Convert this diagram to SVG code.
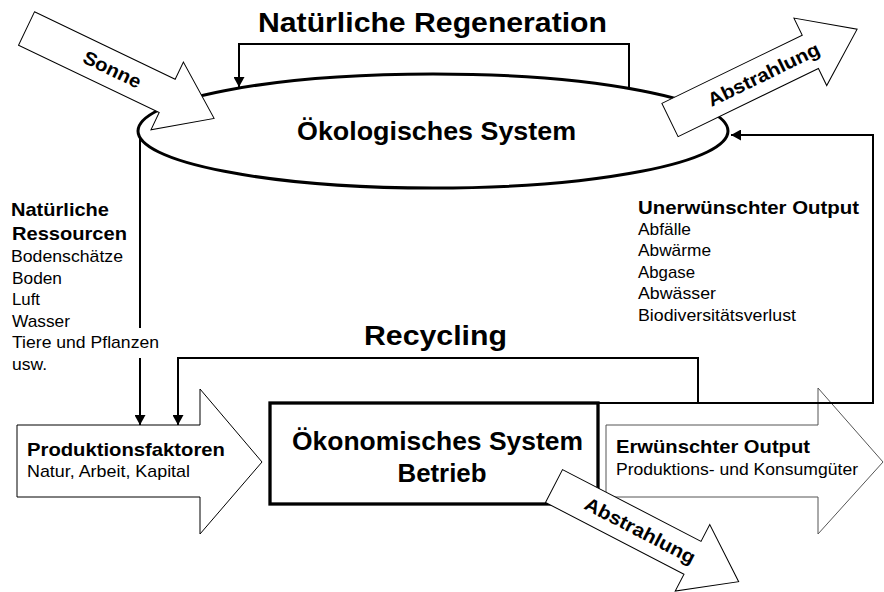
<svg xmlns="http://www.w3.org/2000/svg" width="884" height="592" viewBox="0 0 884 592">
<style>
text{font-family:"Liberation Sans",Arial,sans-serif;fill:#000}
.b{font-weight:bold}
.t{font-size:27px;font-weight:bold}
.sys{font-size:25px;font-weight:bold}
.lb{font-size:19px;font-weight:bold}
.r{font-size:17px}
.fat{fill:#fff;stroke:#000;stroke-width:1}
.conn{fill:none;stroke:#000;stroke-width:2}
</style>
<defs>
<marker id="ah" markerWidth="10" markerHeight="11" refX="10" refY="5.5" orient="auto" markerUnits="userSpaceOnUse"><path d="M0,0 L10,5.5 L0,11 z" fill="#000"/></marker>
<path id="flow" d="M0,-18.5 H156 V-37.5 L208,0 L156,37.5 V18.5 H0 Z"/>
</defs>

<g id="oekologisches-system">
<ellipse cx="433" cy="131" rx="295" ry="57" fill="#fff" stroke="#000" stroke-width="3"/>
<text class="sys" x="436.5" y="140" text-anchor="middle" textLength="279" lengthAdjust="spacingAndGlyphs">Ökologisches System</text>
</g>

<g id="oekonomisches-system">
<rect x="270" y="403" width="328" height="101" fill="#fff" stroke="#000" stroke-width="3.3"/>
<text class="sys" x="437.5" y="450" text-anchor="middle" textLength="291" lengthAdjust="spacingAndGlyphs">Ökonomisches System</text>
<text class="sys" x="442" y="482" text-anchor="middle" textLength="89" lengthAdjust="spacingAndGlyphs">Betrieb</text>
</g>

<g id="produktionsfaktoren">
<polygon class="fat" points="17,425 200,425 200,389 262,462 200,534 200,497 17,497"/>
<text class="lb" x="27" y="456" textLength="198" lengthAdjust="spacingAndGlyphs">Produktionsfaktoren</text>
<text class="r" x="27" y="477" textLength="163" lengthAdjust="spacingAndGlyphs">Natur, Arbeit, Kapital</text>
</g>

<g id="erwuenschter-output">
<polygon class="fat" style="stroke:#555" points="606,425 818,425 818,388 883,462 818,534 818,497 606,497"/>
<text class="lb" x="616" y="453" textLength="194" lengthAdjust="spacingAndGlyphs">Erwünschter Output</text>
<text class="r" x="616" y="475" textLength="242" lengthAdjust="spacingAndGlyphs">Produktions- und Konsumgüter</text>
</g>

<g id="connectors">
<path class="conn" d="M629,88 V44 H239 V87" marker-end="url(#ah)"/>
<path class="conn" d="M140,138 V328"/>
<path class="conn" d="M140,358 V425" marker-end="url(#ah)"/>
<path class="conn" d="M698,403 V358 H178 V425" marker-end="url(#ah)"/>
<path class="conn" d="M598,403 H873 V135 H731" marker-end="url(#ah)"/>
</g>

<g id="sonne">
<use href="#flow" class="fat" transform="translate(26.5,28.5) rotate(25.6)"/>
<text class="lb" transform="translate(26.5,28.5) rotate(25.6)" x="95" y="6.5" text-anchor="middle" textLength="62" lengthAdjust="spacingAndGlyphs">Sonne</text>
</g>

<g id="abstrahlung-oben">
<use href="#flow" class="fat" transform="translate(670,120) rotate(-25.9)"/>
<text class="lb" transform="translate(670,120) rotate(-25.9)" x="104" y="6.5" text-anchor="middle" textLength="122" lengthAdjust="spacingAndGlyphs">Abstrahlung</text>
</g>

<g id="abstrahlung-unten">
<use href="#flow" class="fat" transform="translate(554,486) rotate(27.4)"/>
<text class="lb" transform="translate(554,486) rotate(27.4)" x="97" y="6.5" text-anchor="middle" textLength="122" lengthAdjust="spacingAndGlyphs">Abstrahlung</text>
</g>

<g id="titel-regeneration">
<text class="t" x="258" y="32" textLength="349" lengthAdjust="spacingAndGlyphs">Natürliche Regeneration</text>
</g>

<g id="titel-recycling">
<text class="t" x="364" y="345" textLength="143" lengthAdjust="spacingAndGlyphs">Recycling</text>
</g>

<g id="natuerliche-ressourcen">
<text class="lb" x="11" y="216" textLength="98" lengthAdjust="spacingAndGlyphs">Natürliche</text>
<text class="lb" x="12" y="240" textLength="115" lengthAdjust="spacingAndGlyphs">Ressourcen</text>
<text class="r" x="11" y="262" textLength="112" lengthAdjust="spacingAndGlyphs">Bodenschätze</text>
<text class="r" x="12" y="283.5" textLength="50" lengthAdjust="spacingAndGlyphs">Boden</text>
<text class="r" x="12" y="305" textLength="28" lengthAdjust="spacingAndGlyphs">Luft</text>
<text class="r" x="12" y="326.5" textLength="58" lengthAdjust="spacingAndGlyphs">Wasser</text>
<text class="r" x="12" y="348" textLength="147" lengthAdjust="spacingAndGlyphs">Tiere und Pflanzen</text>
<text class="r" x="12" y="369.5" textLength="35" lengthAdjust="spacingAndGlyphs">usw.</text>
</g>

<g id="unerwuenschter-output">
<text class="lb" x="638" y="214" textLength="221" lengthAdjust="spacingAndGlyphs">Unerwünschter Output</text>
<text class="r" x="638" y="235" textLength="53" lengthAdjust="spacingAndGlyphs">Abfälle</text>
<text class="r" x="638" y="256" textLength="73" lengthAdjust="spacingAndGlyphs">Abwärme</text>
<text class="r" x="638" y="277.5" textLength="57" lengthAdjust="spacingAndGlyphs">Abgase</text>
<text class="r" x="638" y="299" textLength="78" lengthAdjust="spacingAndGlyphs">Abwässer</text>
<text class="r" x="638" y="320.5" textLength="158" lengthAdjust="spacingAndGlyphs">Biodiversitätsverlust</text>
</g>
</svg>
